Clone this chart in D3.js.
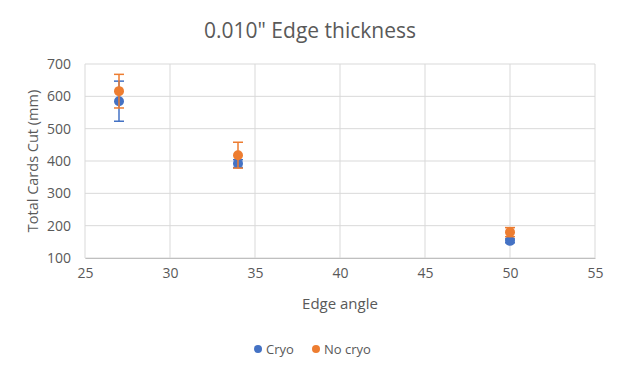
<!DOCTYPE html>
<html>
<head>
<meta charset="utf-8">
<script src="https://cdn.jsdelivr.net/npm/d3@7"></script>
<style>
  body { margin: 0; background: #fff; }
  text { font-family: "Open Sans", "Noto Sans", sans-serif; fill: #595959; }
</style>
</head>
<body>
<div id="chart"></div>
<script>
// chart data
let angles = [27, 34, 50];
let cryo = [585, 392, 153];
let cryoErr = [62, 12, 6];
let noCryo = [616, 418, 180];
let noCryoErr = [52, 40, 14];
let xTicks = [25, 30, 35, 40, 45, 50, 55];
let yTicks = [100, 200, 300, 400, 500, 600, 700];

let series = [
  { name: "Cryo", values: cryo, err: cryoErr, color: "#4472C4" },
  { name: "No cryo", values: noCryo, err: noCryoErr, color: "#ED7D31" }
];

function drawChart() {
  let W = 623, H = 374;
  let margin = { top: 64, bottom: 116, left: 85, right: 28 };
  let w = W - margin.left - margin.right;
  let h = H - margin.top - margin.bottom;

  let svg = d3.select("#chart")
      .append("svg")
      .attr("width", W)
      .attr("height", H);

  let g = svg.append("g")
      .attr("transform", `translate(${margin.left}, ${margin.top})`);

  let x = d3.scaleLinear().domain([25, 55]).range([0, w]);
  let y = d3.scaleLinear().domain([100, 700]).range([h, 0]);

  // gridlines
  g.selectAll(".hgrid").data(yTicks).enter().append("line")
      .attr("x1", 0).attr("x2", w)
      .attr("y1", d => y(d)).attr("y2", d => y(d))
      .attr("stroke", "#d9d9d9").attr("stroke-width", 1);
  g.selectAll(".vgrid").data(xTicks).enter().append("line")
      .attr("y1", 0).attr("y2", h)
      .attr("x1", d => x(d)).attr("x2", d => x(d))
      .attr("stroke", "#d9d9d9").attr("stroke-width", 1);

  // axes
  let xAxis = d3.axisBottom(x).tickValues(xTicks).tickSize(0).tickPadding(10);
  let yAxis = d3.axisLeft(y).tickValues(yTicks).tickSize(0).tickPadding(14);

  let gx = g.append("g").attr("transform", `translate(0, ${h})`).call(xAxis);
  gx.select(".domain").attr("stroke", "#bfbfbf");
  gx.selectAll("text").style("font-size", "14px").attr("fill", "#595959");

  let gy = g.append("g").call(yAxis);
  gy.select(".domain").remove();
  gy.selectAll("text").style("font-size", "14px").attr("fill", "#595959");

  // error bars then markers
  series.forEach(function(s) {
    let sg = g.append("g");
    angles.forEach(function(a, i) {
      let cx = x(a);
      let lo = y(s.values[i] - s.err[i]);
      let hi = y(s.values[i] + s.err[i]);
      sg.append("line").attr("x1", cx).attr("x2", cx).attr("y1", lo).attr("y2", hi)
          .attr("stroke", s.color).attr("stroke-width", 1.5);
      [lo, hi].forEach(function(yy) {
        sg.append("line").attr("x1", cx - 5).attr("x2", cx + 5).attr("y1", yy).attr("y2", yy)
            .attr("stroke", s.color).attr("stroke-width", 1.5);
      });
    });
    sg.selectAll("circle").data(s.values).enter().append("circle")
        .attr("cx", (d, i) => x(angles[i]))
        .attr("cy", d => y(d))
        .attr("r", 5)
        .attr("fill", s.color);
  });

  // title
  svg.append("text")
      .attr("x", 310).attr("y", 38)
      .attr("text-anchor", "middle")
      .style("font-size", "21px")
      .text('0.010" Edge thickness');

  // axis titles
  svg.append("text")
      .attr("x", margin.left + w / 2).attr("y", 309)
      .attr("text-anchor", "middle")
      .style("font-size", "15px")
      .text("Edge angle");

  svg.append("text")
      .attr("transform", `translate(38, ${margin.top + h / 2}) rotate(-90)`)
      .attr("text-anchor", "middle")
      .style("font-size", "14.5px")
      .text("Total Cards Cut (mm)");

  // legend
  let lg = svg.append("g").attr("transform", "translate(258, 349)");
  let offsets = [0, 58];
  series.forEach(function(s, i) {
    lg.append("circle").attr("cx", offsets[i]).attr("cy", 0).attr("r", 4).attr("fill", s.color);
    lg.append("text").attr("x", offsets[i] + 8).attr("y", 4.5)
        .style("font-size", "13px").text(s.name);
  });
}

drawChart();
</script>
</body>
</html>
